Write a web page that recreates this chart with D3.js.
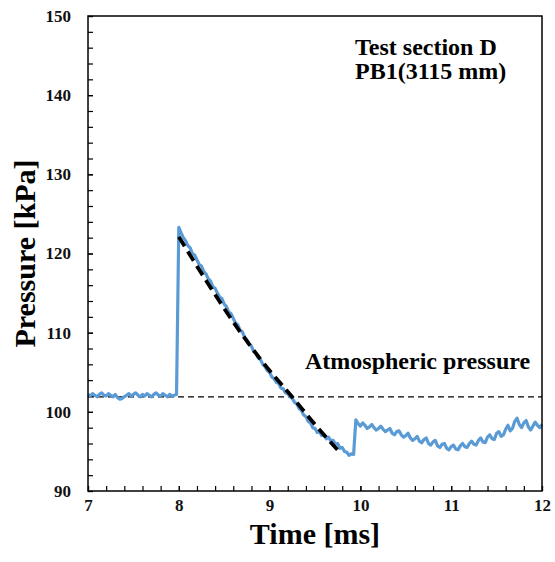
<!DOCTYPE html>
<html>
<head>
<meta charset="utf-8">
<script src="https://cdn.jsdelivr.net/npm/d3@7"></script>
<style>
  body { margin: 0; background: #fff; }
  svg { display: block; }
  text { font-family: 'Liberation Serif', 'Times New Roman', serif; font-weight: bold; }
</style>
</head>
<body>
<svg id="chart"></svg>
<script>
// axis settings
const xDomain = [7, 12];
const yDomain = [90, 150];
const xMajorTicks = [7, 8, 9, 10, 11, 12];
const yMajorTicks = [90, 100, 110, 120, 130, 140, 150];

// measured pressure, sampled every 0.025 ms
const sampleStep = 0.025;

// before arrival (7.000 .. 7.975 ms)
const preStart = 7.0;
const preValues = [
  102.2, 102.0, 102.3, 102.1, 101.9, 102.2, 102.4, 102.1, 102.0, 102.3,
  102.1, 101.9, 102.2, 101.8, 101.6, 101.7, 101.9, 102.1, 102.3, 102.0,
  102.2, 102.4, 102.1, 101.9, 102.2, 102.0, 102.3, 102.1, 101.9, 102.2,
  102.4, 102.1, 102.0, 102.3, 102.1, 101.9, 102.2, 102.0, 102.1, 102.2,
];

// decay after the shock (8.000 .. 9.925 ms)
const decayStart = 8.0;
const decayValues = [
  123.3, 122.6, 122.0, 121.6, 121.0, 120.7, 120.0, 119.8, 119.2, 118.6,
  118.4, 117.7, 117.4, 116.8, 116.5, 115.8, 115.6, 115.0, 114.5, 114.3,
  113.6, 113.3, 112.6, 112.4, 111.8, 111.2, 111.0, 110.3, 110.1, 109.4,
  109.1, 108.6, 108.3, 107.6, 107.4, 106.8, 106.6, 106.0, 105.7, 105.2,
  105.0, 104.4, 104.2, 103.7, 103.6, 103.0, 102.9, 102.4, 102.3, 101.9,
  101.7, 101.2, 101.0, 100.4, 100.2, 99.6, 99.4, 98.8, 98.6, 98.0,
  97.9, 97.4, 97.5, 97.0, 97.1, 96.6, 96.8, 96.3, 96.4, 95.9,
  96.0, 95.4, 95.5, 95.0, 94.9, 94.5, 94.7, 94.6,
];

// after the secondary jump (9.950 .. 12.000 ms)
const tailStart = 9.95;
const tailValues = [
  99.0, 98.5, 98.2, 98.6, 98.3, 97.9, 98.1, 98.4, 98.0, 97.7,
  97.9, 98.2, 97.8, 97.5, 97.7, 97.9, 97.3, 97.1, 97.5, 97.6,
  97.1, 96.8, 97.0, 97.3, 96.7, 96.4, 96.6, 96.9, 96.3, 96.1,
  96.5, 96.7, 96.0, 95.8, 96.2, 96.4, 95.7, 95.5, 95.9, 96.0,
  95.4, 95.2, 95.6, 95.8, 95.3, 95.2, 95.7, 96.0, 95.6, 95.5,
  96.0, 96.3, 95.9, 95.8, 96.4, 96.7, 96.2, 96.1, 96.8, 97.1,
  96.6, 96.5, 97.3, 97.5, 96.9, 97.1, 97.8, 98.3, 97.6, 97.9,
  98.8, 99.2, 98.4, 98.0, 98.6, 98.9, 98.1, 97.7, 98.2, 98.7,
  98.3, 98.0, 98.4,
];

// fitted decay (black dashed)
const fitTimes = [8.0, 8.3, 8.67, 8.93, 9.24, 9.5, 9.78];
const fitValues = [122.1, 116.6, 110.2, 106.2, 102.0, 98.4, 94.8];

// atmospheric pressure level
const atmPressure = 101.9;

const margin = { top: 16, right: 13, bottom: 71, left: 88 };
const width = 555 - margin.left - margin.right;
const height = 562 - margin.top - margin.bottom;

const toPoints = (start, values) =>
  values.map((v, i) => ({ t: start + i * sampleStep, p: v }));

const signal = [
  ...toPoints(preStart, preValues),
  ...toPoints(decayStart, decayValues),
  ...toPoints(tailStart, tailValues),
];
const fit = fitTimes.map((t, i) => ({ t, p: fitValues[i] }));

const xScale = d3.scaleLinear().domain(xDomain).range([0, width]);
const yScale = d3.scaleLinear().domain(yDomain).range([height, 0]);

const svg = d3
  .select('#chart')
  .attr('width', 555)
  .attr('height', 562)
  .append('g')
  .attr('transform', `translate(${margin.left},${margin.top})`);

// minor ticks (inside)
const xMinor = d3.range(7, 12.0001, 0.2);
const yMinor = d3.range(90, 150.0001, 2);

svg
  .append('g')
  .attr('transform', `translate(0,${height})`)
  .call(d3.axisBottom(xScale).tickValues(xMinor).tickSize(-5).tickFormat(''))
  .call((g) => g.select('.domain').remove());

svg
  .append('g')
  .call(d3.axisLeft(yScale).tickValues(yMinor).tickSize(-5).tickFormat(''))
  .call((g) => g.select('.domain').remove());

// major axes with labels
const xAxisGroup = svg
  .append('g')
  .attr('transform', `translate(0,${height})`)
  .call(
    d3
      .axisBottom(xScale)
      .tickValues(xMajorTicks)
      .tickFormat(d3.format('d'))
      .tickSize(-5)
      .tickPadding(8)
  );
xAxisGroup.select('.domain').remove();
xAxisGroup.selectAll('text').attr('font-size', 17).attr('fill', '#111')
  .attr('font-family', "'Liberation Serif', 'Times New Roman', serif")
  .attr('font-weight', 'bold');

const yAxisGroup = svg
  .append('g')
  .call(
    d3
      .axisLeft(yScale)
      .tickValues(yMajorTicks)
      .tickFormat(d3.format('d'))
      .tickSize(-5)
      .tickPadding(17)
  );
yAxisGroup.select('.domain').remove();
yAxisGroup.selectAll('text').attr('font-size', 17).attr('fill', '#111')
  .attr('font-family', "'Liberation Serif', 'Times New Roman', serif")
  .attr('font-weight', 'bold');

svg.selectAll('.tick line').attr('stroke', '#000').attr('stroke-width', 1.2);

// atmospheric pressure line
svg
  .append('line')
  .attr('x1', xScale(xDomain[0]))
  .attr('x2', xScale(xDomain[1]))
  .attr('y1', yScale(atmPressure))
  .attr('y2', yScale(atmPressure))
  .attr('stroke', '#000')
  .attr('stroke-width', 1.3)
  .attr('stroke-dasharray', '6,4');

// measured signal
const line = d3
  .line()
  .x((d) => xScale(d.t))
  .y((d) => yScale(d.p));

svg
  .append('path')
  .datum(signal)
  .attr('fill', 'none')
  .attr('stroke', '#5b9bd5')
  .attr('stroke-width', 3.2)
  .attr('stroke-linejoin', 'round')
  .attr('d', line);

// fitted curve
svg
  .append('path')
  .datum(fit)
  .attr('fill', 'none')
  .attr('stroke', '#000')
  .attr('stroke-width', 3.8)
  .attr('stroke-dasharray', '11,6')
  .attr('d', line.curve(d3.curveMonotoneX));

// frame
svg
  .append('rect')
  .attr('width', width)
  .attr('height', height)
  .attr('fill', 'none')
  .attr('stroke', '#000')
  .attr('stroke-width', 1.5);

// annotations
svg
  .append('text')
  .attr('x', 355 - margin.left)
  .attr('y', 55 - margin.top)
  .attr('font-size', 24)
  .text('Test section D');

svg
  .append('text')
  .attr('x', 355 - margin.left)
  .attr('y', 79 - margin.top)
  .attr('font-size', 24)
  .text('PB1(3115 mm)');

svg
  .append('text')
  .attr('x', 305 - margin.left)
  .attr('y', 369 - margin.top)
  .attr('font-size', 24)
  .text('Atmospheric pressure');

// axis titles
svg
  .append('text')
  .attr('x', width / 2)
  .attr('y', 544 - margin.top)
  .attr('text-anchor', 'middle')
  .attr('font-size', 30)
  .text('Time [ms]');

svg
  .append('text')
  .attr('transform', `translate(${35 - margin.left},${height / 2}) rotate(-90)`)
  .attr('text-anchor', 'middle')
  .attr('font-size', 30)
  .text('Pressure [kPa]');
</script>
</body>
</html>
